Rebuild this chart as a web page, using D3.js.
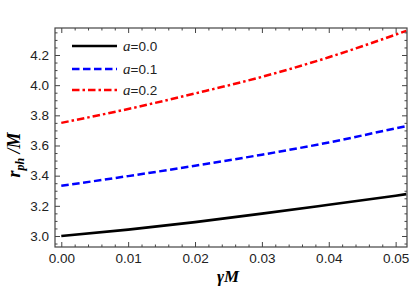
<!DOCTYPE html>
<html>
<head>
<meta charset="utf-8">
<script src="https://cdn.jsdelivr.net/npm/d3@7"></script>
<style>
  body { margin: 0; background: #fff; }
  svg { display: block; }
</style>
</head>
<body>
<div id="chart"></div>
<script>
// data
var gamma = [0, 0.01, 0.02, 0.03, 0.04, 0.05, 0.0516];
var r_a00 = [3.000, 3.042, 3.092, 3.148, 3.207, 3.267, 3.277];
var r_a01 = [3.333, 3.397, 3.466, 3.539, 3.620, 3.714, 3.729];
var r_a02 = [3.750, 3.842, 3.945, 4.055, 4.185, 4.335, 4.360];
var seriesNames = ['0.0', '0.1', '0.2'];
var xTicks = [0, 0.01, 0.02, 0.03, 0.04, 0.05];
var yTicks = [3.0, 3.2, 3.4, 3.6, 3.8, 4.0, 4.2];

var width = 415, height = 298;
var frame = {left: 55, right: 407, top: 28, bottom: 247};

var svg = d3.select('#chart')
  .append('svg')
  .attr('width', width)
  .attr('height', height);

var x = d3.scaleLinear()
  .domain([-0.00094, 0.0517])
  .range([frame.left, frame.right]);

var y = d3.scaleLinear()
  .domain([2.927, 4.379])
  .range([frame.bottom, frame.top]);

var styles = [
  {color: '#000', width: 2.7, dash: null},
  {color: '#0000ff', width: 2.5, dash: '7.5,3.5'},
  {color: '#ff0000', width: 2.5, dash: '7.5,3,2.5,3'}
];
var seriesData = [r_a00, r_a01, r_a02];

// clip so lines stop at the frame
svg.append('clipPath').attr('id', 'clip')
  .append('rect')
  .attr('x', frame.left).attr('y', frame.top)
  .attr('width', frame.right - frame.left)
  .attr('height', frame.bottom - frame.top);

var line = d3.line()
  .x(function (d) { return x(d[0]) })
  .y(function (d) { return y(d[1]) })
  .curve(d3.curveMonotoneX);

seriesData.forEach(function (vals, i) {
  var pts = gamma.map(function (g, j) { return [g, vals[j]] });
  svg.append('path')
    .datum(pts)
    .attr('clip-path', 'url(#clip)')
    .attr('fill', 'none')
    .attr('stroke', styles[i].color)
    .attr('stroke-width', styles[i].width)
    .attr('stroke-dasharray', styles[i].dash)
    .attr('d', line);
});

// frame axes, ticks inward on all four sides
var tickColor = '#444';
var xMinor = d3.range(0, 0.0517, 0.002).filter(function (v) { return Math.abs(v / 0.01 - Math.round(v / 0.01)) > 1e-6 });
var yMinor = d3.range(2.95, 4.379, 0.05).filter(function (v) { return Math.abs(v / 0.2 - Math.round(v / 0.2)) > 1e-6 });

function frameAxis(axisFn, scale, major, minor, transform, labels) {
  var gMinor = svg.append('g').attr('transform', transform)
    .call(axisFn(scale).tickValues(minor).tickSize(-2.5).tickFormat(''));
  var gMajor = svg.append('g').attr('transform', transform)
    .call(axisFn(scale).tickValues(major).tickSize(-5).tickPadding(6)
      .tickFormat(labels ? (axisFn === d3.axisBottom ? d3.format('.2f') : d3.format('.1f')) : ''));
  [gMinor, gMajor].forEach(function (g) {
    g.select('.domain').remove();
    g.selectAll('line').attr('stroke', tickColor).attr('stroke-width', 1);
    g.selectAll('text')
      .attr('fill', '#222')
      .style('font-family', '"Liberation Sans", Arial, sans-serif')
      .style('font-size', '13.5px');
  });
  return gMajor;
}

frameAxis(d3.axisBottom, x, xTicks, xMinor, 'translate(0,' + frame.bottom + ')', true);
frameAxis(d3.axisTop, x, xTicks, xMinor, 'translate(0,' + frame.top + ')', false);
frameAxis(d3.axisLeft, y, yTicks, yMinor, 'translate(' + frame.left + ',0)', true);
frameAxis(d3.axisRight, y, yTicks, yMinor, 'translate(' + frame.right + ',0)', false);

svg.append('rect')
  .attr('x', frame.left).attr('y', frame.top)
  .attr('width', frame.right - frame.left)
  .attr('height', frame.bottom - frame.top)
  .attr('fill', 'none')
  .attr('stroke', tickColor)
  .attr('stroke-width', 1.2);

// axis labels
svg.append('text')
  .attr('x', 228)
  .attr('y', 282)
  .attr('text-anchor', 'middle')
  .style('font-family', '"Liberation Serif", "Times New Roman", serif')
  .style('font-weight', 'bold')
  .style('font-style', 'italic')
  .style('font-size', '17px')
  .text('\u03B3M');

var yl = svg.append('text')
  .attr('transform', 'translate(20,155) rotate(-90)')
  .attr('text-anchor', 'middle')
  .style('font-family', '"Liberation Serif", "Times New Roman", serif')
  .style('font-weight', 'bold')
  .style('font-style', 'italic')
  .style('font-size', '18px');
yl.append('tspan').text('r');
yl.append('tspan').attr('dy', 4).style('font-size', '12px').text('ph');
yl.append('tspan').attr('dy', -4).text(' /M');

// legend
var legendY = [46, 69, 90];
seriesNames.forEach(function (name, i) {
  svg.append('line')
    .attr('x1', 72).attr('x2', 117)
    .attr('y1', legendY[i]).attr('y2', legendY[i])
    .attr('stroke', styles[i].color)
    .attr('stroke-width', styles[i].width)
    .attr('stroke-dasharray', styles[i].dash);
  var t = svg.append('text')
    .attr('x', 123)
    .attr('y', legendY[i] + 5)
    .style('font-size', '13.5px')
    .attr('fill', '#222');
  t.append('tspan')
    .style('font-family', '"Liberation Serif", "Times New Roman", serif')
    .style('font-style', 'italic')
    .style('font-size', '15px')
    .text('a');
  t.append('tspan')
    .style('font-family', '"Liberation Sans", Arial, sans-serif')
    .text('=' + name);
});
</script>
</body>
</html>
